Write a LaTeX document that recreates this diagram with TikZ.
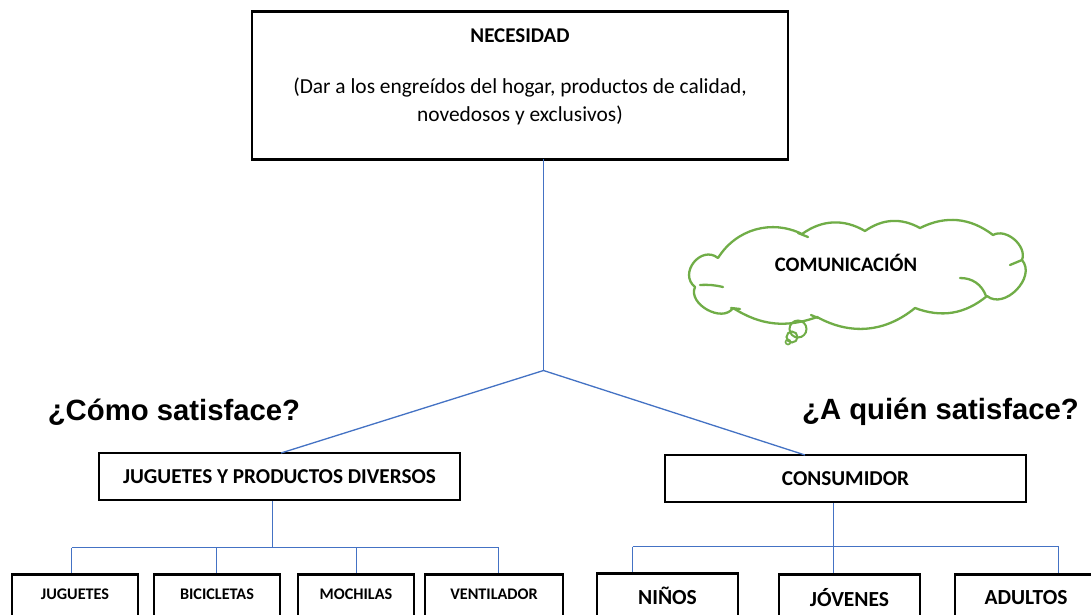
\documentclass[tikz,border=0pt]{standalone}
\usepackage{fontspec}
\setmainfont{Carlito}
\newfontfamily\arialfont{Liberation Sans}
\definecolor{conn}{HTML}{4472C4}
\definecolor{cloudgreen}{HTML}{70AD47}
\begin{document}
\begin{tikzpicture}[x=1pt,y=-1pt,
  box/.style={draw=black, line width=2.6pt, rectangle, inner sep=0pt, fill=white},
  lk/.style={draw=conn, line width=1.3pt},
  boldtxt/.style={font=\fontsize{16.2}{19}\selectfont\bfseries, inner sep=0pt},
  bigtxt/.style={font=\fontsize{21.5}{24}\selectfont\bfseries, inner sep=0pt},
  cloudline/.style={draw=cloudgreen, line width=2.3pt, line cap=round, line join=round},
  quest/.style={font=\arialfont\fontsize{29.3}{33}\selectfont\bfseries, inner sep=0pt}]
\useasboundingbox (0,0) rectangle (1091,614);
\fill[white] (0,0) rectangle (1091,614);

% top box
\node[box, minimum width=536, minimum height=148] (nec) at (520,85.5) {};
\node[font=\fontsize{21}{24}\selectfont\bfseries, inner sep=0pt] (nect) at (520,36) {NECESIDAD};
\node[font=\fontsize{21.4}{28}\selectfont, align=center, inner sep=0pt] (necd) at (520,101)
  {(Dar a los engreídos del hogar, productos de calidad,\\novedosos y exclusivos)};

% junction
\coordinate (j) at (543.5,370.5);
\coordinate (nb) at (543.5,159);

% second level
\node[box, minimum width=361, minimum height=47] (jpd) at (279.5,476.5)
  {\fontsize{21.2}{24}\selectfont\bfseries JUGUETES Y PRODUCTOS DIVERSOS};
\node[box, minimum width=361, minimum height=47] (cons) at (845.5,478.5)
  {\fontsize{21.2}{24}\selectfont\bfseries CONSUMIDOR};

\node[quest] (q1) at (174,412) {¿Cómo satisface?};
\node[quest] (q2) at (940.5,412) {¿A quién satisface?};

% connectors top
\coordinate (jpdtop) at (281,453);
\coordinate (constop) at (805,455);
\draw[lk] (nb) -- (j);
\draw[lk] (j) -- (jpdtop);
\draw[lk] (j) -- (constop);

% bottom left boxes
\node[box, anchor=north, minimum width=126, minimum height=60] (jug) at (75,573) {};
\node[box, anchor=north, minimum width=126, minimum height=60] (bic) at (217,573) {};
\node[box, anchor=north, minimum width=116, minimum height=60] (moc) at (356,573) {};
\node[box, anchor=north, minimum width=138, minimum height=60] (ven) at (494,573) {};
\node[boldtxt] at (75,594) {JUGUETES};
\node[boldtxt] at (217,594) {BICICLETAS};
\node[boldtxt] at (356,594) {MOCHILAS};
\node[boldtxt] at (494,594) {VENTILADOR};

\coordinate (lb) at (272.5,547.5);
\coordinate (lb1) at (71.5,547.5);
\coordinate (lb2) at (216.5,547.5);
\coordinate (lb3) at (356.5,547.5);
\coordinate (lb4) at (498.5,547.5);
\draw[lk] (jpd.south -| lb) -- (lb);
\draw[lk] (lb1) -- (lb4);
\draw[lk] (lb1) -- (lb1 |- jug.north);
\draw[lk] (lb2) -- (lb2 |- bic.north);
\draw[lk] (lb3) -- (lb3 |- moc.north);
\draw[lk] (lb4) -- (lb4 |- ven.north);

% bottom right boxes
\node[box, anchor=north, minimum width=141, minimum height=60] (nin) at (667.5,572) {};
\node[box, anchor=north, minimum width=141, minimum height=60] (jov) at (849.5,573) {};
\node[box, anchor=north, minimum width=142, minimum height=60] (adu) at (1026,573) {};
\node[bigtxt] at (667.5,596) {NIÑOS};
\node[bigtxt] at (849.5,598) {JÓVENES};
\node[bigtxt] at (1026,598) {ADULTOS};

\coordinate (rb) at (833.5,546.5);
\coordinate (rb1) at (632.5,546.5);
\coordinate (rb3) at (1058.5,546.5);
\draw[lk] (rb |- cons.south) -- (rb);
\draw[lk] (rb1) -- (rb3);
\draw[lk] (rb1) -- (rb1 |- nin.north);
\draw[lk] (rb) -- (rb |- jov.north);
\draw[lk] (rb3) -- (rb3 |- adu.north);

% cloud
\draw[cloudline] (718,258) to[bend left=42] (802,234) to[bend left=33] (865,231)
  to[bend left=32] (920,228) to[bend left=32] (993,235) to[bend left=70] (1022,260)
  to[bend left=85, looseness=1.15] (987,296) to[bend left=30] (915,308)
  to[bend left=34] (817,317) to[bend left=26] (733,308)
  to[bend left=85, looseness=1.1] (695,287) to[bend left=90, looseness=1.5] (718,258);
% inner fragments of the cloud
\draw[cloudline] (700,285) to[bend left=8] (723,287);
\draw[cloudline] (798,233) -- (808,237);
\draw[cloudline] (1010,265) -- (1022,260);
\draw[cloudline] (960,278) to[bend left=35] (986,296);
\draw[cloudline] (731,308) -- (740,309);
\draw[cloudline] (811,315) -- (818,318);
\node[font=\fontsize{20.6}{24}\selectfont\bfseries, inner sep=0pt] (clt) at (846,263) {COMUNICACIÓN};
\draw[cloudgreen, line width=2pt] (798,329) circle (8.5);
\draw[cloudgreen, line width=2pt] (792,337) circle (5.5);
\draw[cloudgreen, line width=1.6pt] (788,342) circle (2.5);
\end{tikzpicture}
\end{document}
